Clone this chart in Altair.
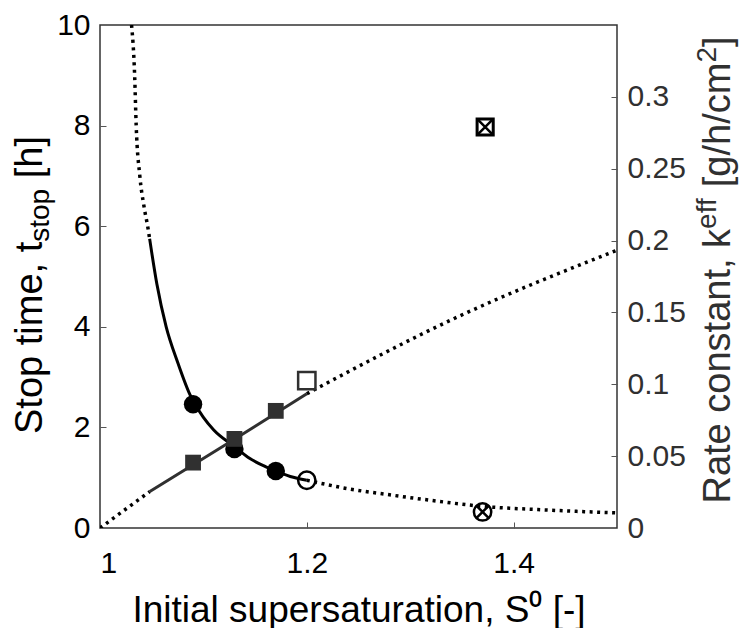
import altair as alt
import pandas as pd

# ---- data ----
# stop time curve (left axis), three pieces
S_T_UPPER = [1.0305, 1.0335, 1.035, 1.0385, 1.0425, 1.0465, 1.048]
T_UPPER = [10.0, 9.0, 8.0, 7.0, 6.4, 5.95, 5.75]
S_T_SOLID = [1.048, 1.055, 1.064, 1.075, 1.087, 1.10, 1.11, 1.13, 1.145, 1.16, 1.17, 1.184, 1.2]
T_SOLID = [5.75, 4.85, 4.0, 3.3, 2.65, 2.2, 1.95, 1.62, 1.38, 1.22, 1.13, 1.025, 0.95]
S_T_LOWER = [1.2, 1.24, 1.28, 1.32, 1.37, 1.43, 1.5]
T_LOWER = [0.95, 0.78, 0.66, 0.55, 0.43, 0.36, 0.30]

# stop time markers
S_CIRC_FILLED = [1.09, 1.13, 1.17]
T_CIRC_FILLED = [2.46, 1.57, 1.135]
S_CIRC_OPEN = [1.2]
T_CIRC_OPEN = [0.95]
S_CIRC_CROSS = [1.37]
T_CIRC_CROSS = [0.32]

# rate constant line (right axis), three pieces
S_K_LOWER = [1.0, 1.048]
K_LOWER = [0.0, 0.0253]
S_K_SOLID = [1.048, 1.13, 1.2]
K_SOLID = [0.0253, 0.0617, 0.0934]
S_K_UPPER = [1.2, 1.345, 1.5]
K_UPPER = [0.0934, 0.1466, 0.1933]

# rate constant markers
S_SQ_FILLED = [1.09, 1.13, 1.17]
K_SQ_FILLED = [0.0455, 0.062, 0.0815]
S_SQ_OPEN = [1.2]
K_SQ_OPEN = [0.1025]
S_SQ_CROSS = [1.3725]
K_SQ_CROSS = [0.279]

X_TICKS = [1, 1.2, 1.4]
T_TICKS = [0, 2, 4, 6, 8, 10]
K_TICKS = [0, 0.05, 0.1, 0.15, 0.2, 0.25, 0.3]

# axis titles, split into normal / sub- / superscript pieces
# (a leading space only advances the position; it is not drawn)
LEFT_TITLE = ["Stop time, t", "stop", " [h]"]
RIGHT_TITLE = ["Rate constant, k", "eff", " [g/h/cm", "2", "]"]
X_TITLE = "Initial supersaturation, S⁰ [-]"

W = 517
H = 503
TOP = 17
FONT = "Liberation Sans"
LABEL_SIZE = 30
XTITLE_SIZE = 37
YT_BIG = 38
YT_SMALL = 28

# Arial / Liberation Sans advance widths (em) for title layout
ADV = {" ": .278, ",": .278, "[": .278, "]": .278, "/": .278, "R": .722,
       "S": .667, "a": .556, "c": .5, "e": .556, "f": .278, "g": .556, "h": .556,
       "i": .222, "k": .5, "m": .833, "n": .556, "o": .556, "p": .556, "s": .5,
       "t": .278, "2": .556}


def text_width(s, size):
    return sum(ADV.get(ch, .556) for ch in s) * size


def df(xs, ys, name):
    return pd.DataFrame({"S": xs, name: ys})


t_dotted = pd.concat([
    df(S_T_UPPER, T_UPPER, "t").assign(seg="a"),
    df(S_T_LOWER, T_LOWER, "t").assign(seg="b"),
])
k_dotted = pd.concat([
    df(S_K_LOWER, K_LOWER, "k").assign(seg="a"),
    df(S_K_UPPER, K_UPPER, "k").assign(seg="b"),
])

x_scale = alt.Scale(domain=[1, 1.5], nice=False, zero=False)
t_scale = alt.Scale(domain=[0, 10], nice=False)
k_scale = alt.Scale(domain=[0, 0.35], nice=False)

x_main_axis = alt.Axis(
    values=X_TICKS, format="~g", ticks=False, tickSize=0, domain=False, grid=False,
    labelFontSize=LABEL_SIZE, labelPadding=20, labelColor="black", labelFont=FONT,
    title=X_TITLE, titleFontSize=XTITLE_SIZE, titleFont=FONT,
    titleFontWeight="normal", titleColor="black",
    titleBaseline="alphabetic", titleY=93,
)
x_tick_axis = alt.Axis(
    orient="top", offset=-H, values=X_TICKS, labels=False, ticks=True, tickSize=6,
    tickColor="#555", tickWidth=1, domain=False, grid=False, title=None,
)


def X(axis):
    return alt.X("S:Q", scale=x_scale, axis=axis)


t_main_axis = alt.Axis(
    values=T_TICKS, format="d", ticks=False, tickSize=0, domain=False, grid=False,
    labelFontSize=LABEL_SIZE, labelPadding=10, labelColor="black", labelFont=FONT,
    title=None,
)
t_tick_axis = alt.Axis(
    orient="right", offset=-W, values=[2, 4, 6, 8], labels=False, ticks=True, tickSize=6,
    tickColor="#555", domain=False, grid=False, title=None,
)
k_main_axis = alt.Axis(
    orient="right", values=K_TICKS, format="~g", ticks=False, tickSize=0, domain=False,
    grid=False, labelFontSize=LABEL_SIZE, labelPadding=10, labelColor="#303030",
    labelFont=FONT, title=None,
)
k_tick_axis = alt.Axis(
    orient="left", offset=-W, values=K_TICKS[1:], labels=False, ticks=True, tickSize=6,
    tickColor="#555", domain=False, grid=False, title=None,
)

DOT = [3, 4.5]

# ---- stop time group ----
t_y = alt.Y("t:Q", scale=t_scale, axis=t_main_axis)
t_sol = alt.Chart(df(S_T_SOLID, T_SOLID, "t")).mark_line(
    color="black", strokeWidth=3, interpolate="monotone", clip=True
).encode(x=X(x_main_axis), y=t_y)
t_dot = alt.Chart(t_dotted).mark_line(
    color="black", strokeWidth=3.5, strokeDash=DOT, interpolate="monotone", clip=True
).encode(x=X(x_main_axis), y=t_y, detail="seg:N")
c_fill = alt.Chart(df(S_CIRC_FILLED, T_CIRC_FILLED, "t")).mark_point(
    shape="circle", filled=True, size=340, color="black", opacity=1
).encode(x=X(x_main_axis), y=t_y)
c_open = alt.Chart(df(S_CIRC_OPEN, T_CIRC_OPEN, "t")).mark_point(
    shape="circle", filled=False, size=300, color="black", strokeWidth=2.5, opacity=1
).encode(x=X(x_main_axis), y=t_y)
c_cross_o = alt.Chart(df(S_CIRC_CROSS, T_CIRC_CROSS, "t")).mark_point(
    shape="circle", filled=False, size=300, color="black", strokeWidth=2.5, opacity=1
).encode(x=X(x_main_axis), y=t_y)
c_cross_x = alt.Chart(df(S_CIRC_CROSS, T_CIRC_CROSS, "t")).mark_point(
    shape="M-0.75,-0.75L0.75,0.75M-0.75,0.75L0.75,-0.75", filled=False, size=300,
    color="black", strokeWidth=2.5, opacity=1
).encode(x=X(x_main_axis), y=t_y)

t_group = alt.layer(t_sol, t_dot, c_fill, c_open, c_cross_o, c_cross_x)

t_ticks = alt.Chart(df(S_CIRC_FILLED, T_CIRC_FILLED, "t")).mark_point(opacity=0).encode(
    x=X(x_tick_axis), y=alt.Y("t:Q", scale=t_scale, axis=t_tick_axis)
)

# ---- rate constant group ----
k_y = alt.Y("k:Q", scale=k_scale, axis=k_main_axis)
k_sol = alt.Chart(df(S_K_SOLID, K_SOLID, "k")).mark_line(
    color="#303030", strokeWidth=3, interpolate="monotone", clip=True
).encode(x=X(None), y=k_y)
k_dot = alt.Chart(k_dotted).mark_line(
    color="black", strokeWidth=3.5, strokeDash=DOT, interpolate="monotone", clip=True
).encode(x=X(None), y=k_y, detail="seg:N")
s_fill = alt.Chart(df(S_SQ_FILLED, K_SQ_FILLED, "k")).mark_point(
    shape="square", filled=True, size=250, color="#303030", opacity=1
).encode(x=X(None), y=k_y)
s_open = alt.Chart(df(S_SQ_OPEN, K_SQ_OPEN, "k")).mark_point(
    shape="square", filled=False, size=300, color="#303030", strokeWidth=2.5, opacity=1
).encode(x=X(None), y=k_y)
s_cross_o = alt.Chart(df(S_SQ_CROSS, K_SQ_CROSS, "k")).mark_point(
    shape="square", filled=False, size=260, color="black", strokeWidth=3, opacity=1
).encode(x=X(None), y=k_y)
s_cross_x = alt.Chart(df(S_SQ_CROSS, K_SQ_CROSS, "k")).mark_point(
    shape="M-1,-1L1,1M-1,1L1,-1", filled=False, size=260, color="black",
    strokeWidth=2.5, opacity=1
).encode(x=X(None), y=k_y)

k_group = alt.layer(k_sol, k_dot, s_fill, s_open, s_cross_o, s_cross_x)

k_ticks = alt.Chart(df(S_SQ_FILLED, K_SQ_FILLED, "k")).mark_point(opacity=0).encode(
    x=X(None), y=alt.Y("k:Q", scale=k_scale, axis=k_tick_axis)
)


# ---- rotated axis titles with real sub/superscripts ----
def rotated_title(pieces, sizes, shifts, x_base, y_center, color):
    widths = [text_width(p, s) for p, s in zip(pieces, sizes)]
    y = y_center + sum(widths) / 2
    layers = []
    for p, s, sh, w in zip(pieces, sizes, shifts, widths):
        drawn = p.lstrip(" ")
        lead = text_width(p[: len(p) - len(drawn)], s)
        layers.append(
            alt.Chart(pd.DataFrame({"txt": [drawn]})).mark_text(
                angle=270, align="left", baseline="alphabetic", fontSize=s,
                font=FONT, color=color,
            ).encode(x=alt.value(x_base + sh), y=alt.value(y - lead), text="txt:N")
        )
        y -= w
    return layers


# positions are relative to the plot area's top-left corner
left_title = rotated_title(
    LEFT_TITLE, [YT_BIG, YT_SMALL, YT_BIG], [0, 7, 0], -58, 285 - 8 - TOP, "black"
)
right_title = rotated_title(
    RIGHT_TITLE, [YT_BIG, YT_SMALL, YT_BIG, YT_SMALL, YT_BIG], [0, -14, 0, -14, 0],
    630, 270 - 8 - TOP, "#303030"
)

chart = (
    alt.layer(t_group, t_ticks, k_group, k_ticks, *left_title, *right_title)
    .resolve_scale(y="independent")
    .resolve_axis(x="independent", y="independent")
    .properties(
        width=W, height=H,
        autosize=alt.AutoSizeParams(type="none"),
        padding={"left": 92, "top": TOP, "right": 125, "bottom": 100},
    )
    .configure_view(stroke="#333", strokeWidth=1.5)
    .configure_axis(grid=False)
)

chart.save("out.html", embed_options={"renderer": "svg", "actions": False})
